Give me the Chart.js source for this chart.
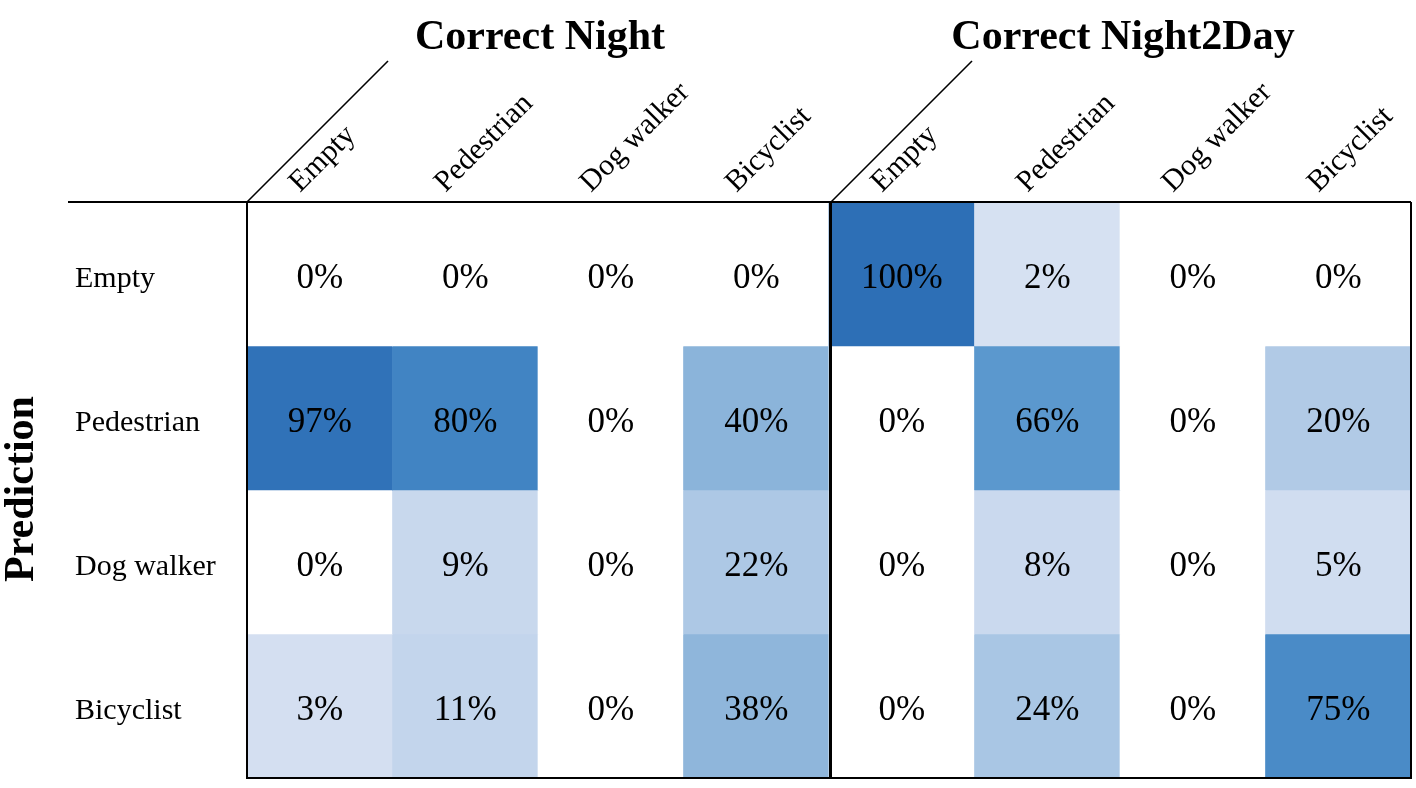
<!DOCTYPE html>
<html>
<head>
<meta charset="utf-8">
<title>Confusion matrix - Night vs Night2Day</title>
<script src="https://cdn.jsdelivr.net/npm/chart.js@4.4.1/dist/chart.umd.min.js"></script>
<style>
    html, body { margin: 0; padding: 0; background: #fff; overflow: hidden; }
    #matrix { display: block; }
</style>
</head>
<body>
<canvas id="matrix" width="1416" height="788"></canvas>
<script>
// Table contents
const groups = ['Correct Night', 'Correct Night2Day'];
const classLabels = ['Empty', 'Pedestrian', 'Dog walker', 'Bicyclist'];
const rowLabels = ['Empty', 'Pedestrian', 'Dog walker', 'Bicyclist'];
const axisTitle = 'Prediction';

// percentages, one array per predicted row (columns: Empty, Pedestrian, Dog walker, Bicyclist)
const nightEmpty      = [0, 0, 0, 0];
const nightPedestrian = [97, 80, 0, 40];
const nightDogWalker  = [0, 9, 0, 22];
const nightBicyclist  = [3, 11, 0, 38];

const n2dEmpty      = [100, 2, 0, 0];
const n2dPedestrian = [0, 66, 0, 20];
const n2dDogWalker  = [0, 8, 0, 5];
const n2dBicyclist  = [0, 24, 0, 75];

const rowValues = [
    nightEmpty.concat(n2dEmpty),
    nightPedestrian.concat(n2dPedestrian),
    nightDogWalker.concat(n2dDogWalker),
    nightBicyclist.concat(n2dBicyclist)
];

// colour scale (0% stays white)
const colourStops = [
    [0, [218, 227, 243]],
    [20, [177, 202, 230]],
    [40, [139, 180, 218]],
    [66, [91, 152, 206]],
    [80, [65, 132, 195]],
    [100, [45, 111, 182]]
];

function cellColour(v) {
    if (v === 0) return '#ffffff';
    for (let i = 1; i < colourStops.length; i++) {
        const [v1, c1] = colourStops[i];
        const [v0, c0] = colourStops[i - 1];
        if (v <= v1) {
            const t = (v - v0) / (v1 - v0);
            const c = c0.map((a, k) => Math.round(a + (c1[k] - a) * t));
            return `rgb(${c[0]}, ${c[1]}, ${c[2]})`;
        }
    }
    return 'rgb(45, 111, 182)';
}

const SERIF = '"Liberation Serif", "Times New Roman", serif';

// draws texts and table rules on top of the cells
const tableDecor = {
    id: 'tableDecor',
    afterDatasetsDraw(chart) {
        const ctx = chart.ctx;
        const area = chart.chartArea;
        const firstRow = chart.getDatasetMeta(0).data;
        const perGroup = classLabels.length;

        ctx.save();
        ctx.fillStyle = '#000';

        // cell values and row labels
        rowValues.forEach((vals, r) => {
            const cells = chart.getDatasetMeta(r).data;
            cells.forEach((el, c) => {
                const cy = (el.y + el.base) / 2;
                ctx.font = '35px ' + SERIF;
                ctx.textAlign = 'center';
                ctx.textBaseline = 'alphabetic';
                ctx.fillText(vals[c] + '%', el.x, cy + 14);
                if (c === 0) {
                    ctx.font = '30px ' + SERIF;
                    ctx.textAlign = 'left';
                    ctx.fillText(rowLabels[r], 75, cy + 13);
                }
            });
        });

        // rotated column headers
        ctx.font = '30px ' + SERIF;
        ctx.textAlign = 'left';
        ctx.textBaseline = 'alphabetic';
        firstRow.forEach((el, c) => {
            const left = el.x - el.width / 2;
            ctx.save();
            ctx.translate(left + 53, area.top - 9);
            ctx.rotate(-Math.PI / 4);
            ctx.fillText(classLabels[c % perGroup], 0, 0);
            ctx.restore();
        });

        // group titles + diagonal lines
        ctx.strokeStyle = '#000';
        groups.forEach((g, gi) => {
            const a = firstRow[gi * perGroup];
            const b = firstRow[gi * perGroup + perGroup - 1];
            const gLeft = a.x - a.width / 2 + (gi > 0 ? 2 : 0);
            const gRight = b.x + b.width / 2;
            ctx.font = 'bold 42px ' + SERIF;
            ctx.textAlign = 'center';
            ctx.fillText(g, (gLeft + gRight) / 2 + 2, 49);

            ctx.lineWidth = 1.6;
            ctx.beginPath();
            ctx.moveTo(gLeft, area.top);
            ctx.lineTo(gLeft + 141, area.top - 141);
            ctx.stroke();
        });

        // vertical axis title
        ctx.save();
        ctx.translate(33, (area.top + area.bottom) / 2 - 1);
        ctx.rotate(-Math.PI / 2);
        ctx.font = 'bold 42px ' + SERIF;
        ctx.textAlign = 'center';
        ctx.fillText(axisTitle, 0, 0);
        ctx.restore();

        // table rules
        ctx.lineWidth = 2;
        ctx.beginPath();
        ctx.moveTo(68, area.top);
        ctx.lineTo(area.right, area.top);
        ctx.moveTo(area.left, area.top);
        ctx.lineTo(area.left, area.bottom);
        ctx.lineTo(area.right, area.bottom);
        ctx.lineTo(area.right, area.top);
        ctx.stroke();

        const split = firstRow[perGroup];
        const splitX = split.x - split.width / 2 + 1.5;
        ctx.lineWidth = 3;
        ctx.beginPath();
        ctx.moveTo(splitX, area.top);
        ctx.lineTo(splitX, area.bottom);
        ctx.stroke();

        ctx.restore();
    }
};

// each cell is one unit tall, rows stacked top-to-bottom
const datasets = rowValues.map((vals, r) => ({
    label: rowLabels[r],
    data: vals.map(() => 1),
    backgroundColor: vals.map(cellColour),
    borderWidth: 0,
    barPercentage: 1,
    categoryPercentage: 1
}));

new Chart(document.getElementById('matrix'), {
    type: 'bar',
    data: {
        labels: groups.flatMap(g => classLabels.map(c => g + ' / ' + c)),
        datasets: datasets
    },
    options: {
        responsive: false,
        animation: false,
        layout: {
            padding: { left: 247, top: 202, right: 5, bottom: 10 }
        },
        plugins: {
            legend: { display: false },
            tooltip: { enabled: false }
        },
        scales: {
            x: {
                display: false,
                stacked: true
            },
            y: {
                display: false,
                stacked: true,
                reverse: true,
                min: 0,
                max: rowLabels.length
            }
        }
    },
    plugins: [tableDecor]
});
</script>
</body>
</html>
